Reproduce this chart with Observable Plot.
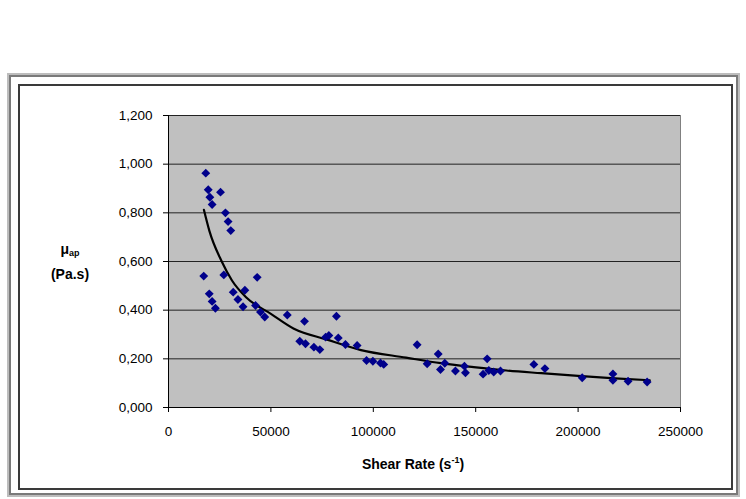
<!DOCTYPE html>
<html>
<head>
<meta charset="utf-8">
<script src="https://cdn.jsdelivr.net/npm/d3@7"></script>
<script src="https://cdn.jsdelivr.net/npm/@observablehq/plot@0.6"></script>
<style>
  html, body { margin: 0; padding: 0; background: #fff; }
  #wrap { position: relative; width: 746px; height: 499px; overflow: hidden; font-family: "Liberation Sans", Arial, sans-serif; }
  #wrap svg { position: absolute; left: 0; top: 0; }
  .outer { position: absolute; left: 9px; top: 75px; width: 725px; height: 416px; border: 2px solid #7a7a7a; outline: 2px solid #bdbdbd; }
  .inner { position: absolute; left: 18px; top: 84px; width: 711px; height: 402px; border: 2px solid #3a3a3a; }
  .ylab { position: absolute; left: 35px; top: 239px; width: 70px; text-align: center; font-weight: bold; font-size: 14px; line-height: 21px; color: #000; }
  .ylab sub { font-size: 9px; vertical-align: -2px; }
  .xlab { position: absolute; left: 293px; top: 456px; width: 240px; text-align: center; font-weight: bold; font-size: 14px; color: #000; }
  .xlab sup { font-size: 9px; vertical-align: 6px; line-height: 0; }
</style>
</head>
<body>
<div id="wrap">
  <div class="outer"></div>
  <div class="inner"></div>
  <div class="ylab">μ<sub>ap</sub><br>(Pa.s)</div>
  <div class="xlab">Shear Rate (s<sup>-1</sup>)</div>
</div>
<script>
// Measured points: shear rate (1/s) and apparent viscosity (Pa.s)
const shearRate = [18200, 19400, 25400, 20200, 21300, 27800, 29100, 30400, 17200, 27000,
  43300, 19900, 21300, 22900, 31600, 37300, 33900, 36400, 42500, 44900,
  47000, 58000, 66400, 82000, 76700, 78300, 82900, 86400, 92100, 64100,
  66900, 71000, 73900, 96700, 99800, 103500, 105100, 121400, 131700, 126300,
  134900, 132800, 140100, 144500, 145000, 155600, 153600, 156400, 158800, 162100,
  178400, 183800, 202000, 217000, 217000, 224400, 233700];
const viscosity = [0.963, 0.895, 0.885, 0.864, 0.834, 0.800, 0.764, 0.727, 0.540, 0.545,
  0.535, 0.467, 0.436, 0.408, 0.474, 0.482, 0.444, 0.414, 0.419, 0.392,
  0.372, 0.380, 0.354, 0.375, 0.289, 0.296, 0.286, 0.259, 0.255, 0.272,
  0.262, 0.248, 0.238, 0.193, 0.190, 0.183, 0.177, 0.258, 0.220, 0.180,
  0.182, 0.156, 0.150, 0.170, 0.143, 0.200, 0.137, 0.152, 0.146, 0.150,
  0.177, 0.160, 0.122, 0.138, 0.112, 0.108, 0.105];

// Trend line
const trendX = [17300, 20000, 26000, 31000, 38000, 50000, 61000, 77000, 94000, 116000,
  133000, 149000, 165000, 182000, 200000, 218000, 235000];
const trendY = [0.812, 0.725, 0.600, 0.522, 0.452, 0.385, 0.325, 0.280, 0.236, 0.205,
  0.182, 0.166, 0.152, 0.141, 0.130, 0.120, 0.112];

const yTicks = [0, 0.2, 0.4, 0.6, 0.8, 1.0, 1.2];
const xTicks = [0, 50000, 100000, 150000, 200000, 250000];

const points = shearRate.map((x, i) => ({x, y: viscosity[i]}));
const trend = trendX.map((x, i) => ({x, y: trendY[i]}));
const fmtY = d => d3.format(".3f")(d).replace(".", ",");

const chart = Plot.plot({
  width: 746,
  height: 499,
  marginLeft: 168,
  marginRight: 66,
  marginTop: 115,
  marginBottom: 92,
  style: {fontFamily: "'Liberation Sans', Arial, sans-serif", fontSize: "13.5px", color: "#000", background: "transparent", overflow: "visible"},
  x: {domain: [0, 250000]},
  y: {domain: [0, 1.2]},
  marks: [
    Plot.frame({fill: "#c0c0c0", stroke: "#808080"}),
    Plot.gridY(yTicks, {stroke: "#222", strokeOpacity: 1}),
    Plot.ruleX([0], {stroke: "#000"}),
    Plot.ruleY([0], {stroke: "#000"}),
    Plot.axisY(yTicks, {tickSize: 5, tickPadding: 11, tickFormat: fmtY, label: null, stroke: "#000"}),
    Plot.axisX(xTicks, {tickSize: 5, tickPadding: 14, tickFormat: d => String(d), label: null, stroke: "#000"}),
    Plot.line(trend, {x: "x", y: "y", stroke: "#000", strokeWidth: 2.2, curve: "monotone-x"}),
    Plot.dot(points, {x: "x", y: "y", symbol: "diamond2", r: 4, fill: "#00008b", stroke: "none"})
  ]
});
document.getElementById("wrap").appendChild(chart);
</script>
</body>
</html>
